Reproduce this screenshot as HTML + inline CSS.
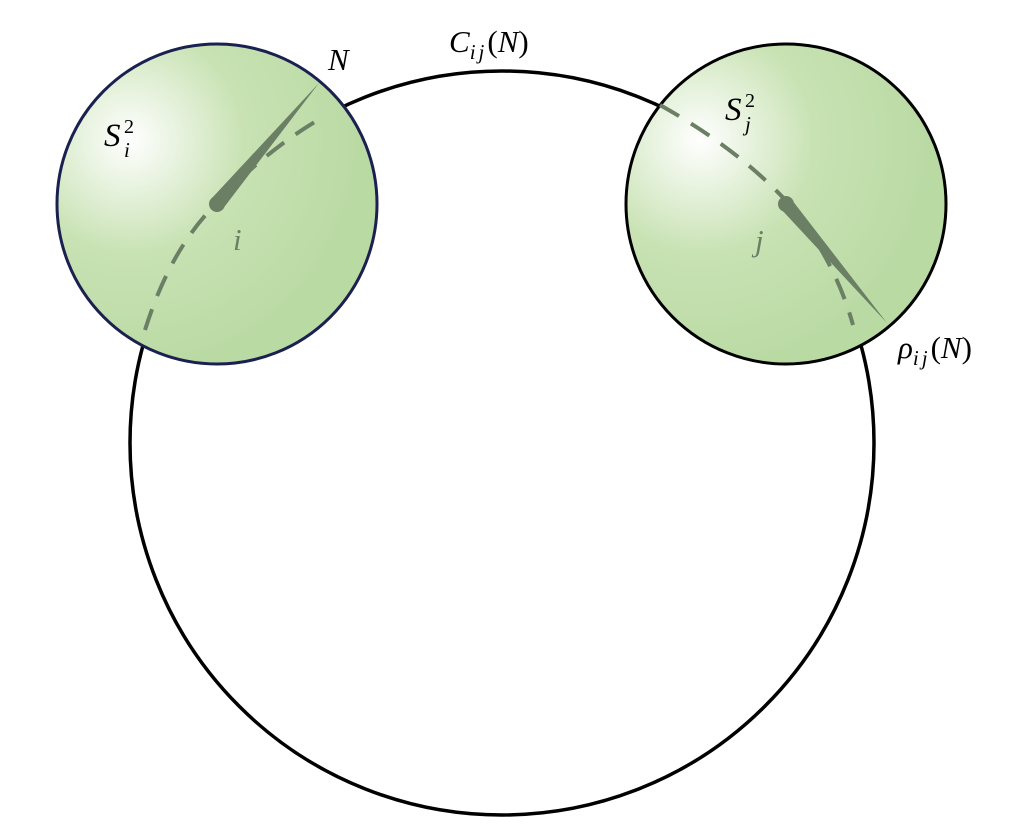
<!DOCTYPE html>
<html><head><style>body{margin:0;background:#fff}svg{display:block}</style></head><body>
<svg width="1024" height="837" viewBox="0 0 1024 837" xmlns="http://www.w3.org/2000/svg">
<defs>
<radialGradient id="gl" cx="130" cy="140" r="230" gradientUnits="userSpaceOnUse">
<stop offset="0" stop-color="#ffffff"/><stop offset="0.5" stop-color="#c8e2b3"/><stop offset="1" stop-color="#badaa4"/></radialGradient>
<radialGradient id="gr" cx="700" cy="140" r="230" gradientUnits="userSpaceOnUse">
<stop offset="0" stop-color="#ffffff"/><stop offset="0.5" stop-color="#c8e2b3"/><stop offset="1" stop-color="#badaa4"/></radialGradient>
</defs>
<circle cx="502" cy="443" r="372" fill="none" stroke="#000" stroke-width="3.5"/>
<circle cx="217" cy="204" r="160" fill="url(#gl)" stroke="#1a2050" stroke-width="3"/>
<circle cx="786" cy="204" r="160" fill="url(#gr)" stroke="#000" stroke-width="3"/>
<path d="M145 330 Q170 250 215 205 Q265 150 325 116" fill="none" stroke="#6b7f65" stroke-width="4" stroke-dasharray="22 14"/>
<path d="M660 105 Q740 150 790 205 Q835 260 853 325" fill="none" stroke="#6b7f65" stroke-width="4" stroke-dasharray="22 14"/>
<polygon points="212,198 222,210 319,83" fill="#6b7f65"/>
<circle cx="217" cy="204" r="8" fill="#6b7f65"/>
<polygon points="780,208 792,200 887,323" fill="#6b7f65"/>
<circle cx="786" cy="204" r="8" fill="#6b7f65"/>
<g font-family="Liberation Serif, serif" font-style="italic" font-size="31">
<text x="328" y="70">N</text>
<text x="449" y="52">C<tspan font-size="21" dy="7" letter-spacing="3">ij</tspan><tspan dy="-7" font-style="normal">(</tspan>N<tspan font-style="normal">)</tspan></text>
<text x="104" y="146" font-size="33">S</text><text x="124" y="157" font-size="21">i</text><text x="124" y="133" font-size="20" font-style="normal">2</text>
<text x="725" y="120" font-size="33">S</text><text x="745" y="131" font-size="21">j</text><text x="745" y="107" font-size="20" font-style="normal">2</text>
<text x="233" y="250" fill="#6b7f65">i</text>
<text x="755" y="251" fill="#6b7f65">j</text>
<text x="898" y="358">ρ<tspan font-size="21" dy="7" letter-spacing="3">ij</tspan><tspan dy="-7" font-style="normal">(</tspan>N<tspan font-style="normal">)</tspan></text>
</g>
</svg>
</body></html>
